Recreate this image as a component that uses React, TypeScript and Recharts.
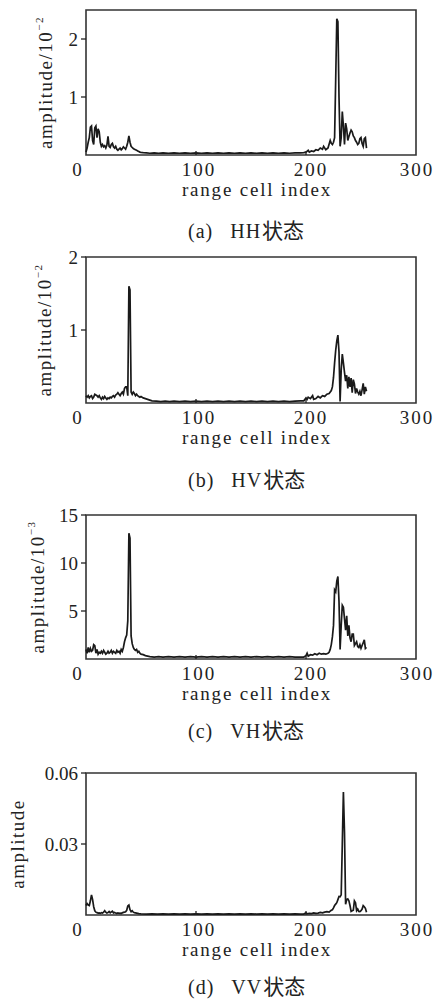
import React from 'react';
import { LineChart, Line, XAxis, YAxis, ReferenceArea } from 'recharts';

// range cell index -> amplitude
const hhSeries: [number, number][] = [
  [0, 0.05], [1, 0.12], [2, 0.22], [3, 0.3], [4, 0.48], [5, 0.5], [6, 0.25], [7, 0.18], [8, 0.47], [9, 0.5],
  [10, 0.3], [11, 0.45], [12, 0.4], [13, 0.22], [14, 0.15], [15, 0.18], [16, 0.14], [17, 0.16], [18, 0.12], [19, 0.17],
  [20, 0.32], [21, 0.15], [22, 0.13], [23, 0.18], [24, 0.2], [25, 0.14], [26, 0.12], [27, 0.15], [28, 0.1], [29, 0.08],
  [30, 0.1], [31, 0.12], [32, 0.09], [33, 0.11], [34, 0.14], [35, 0.12], [36, 0.1], [37, 0.15], [38, 0.22], [39, 0.33],
  [40, 0.22], [41, 0.15], [42, 0.13], [43, 0.11], [44, 0.1], [45, 0.09], [46, 0.08], [47, 0.07], [48, 0.06], [49, 0.05],
  [50, 0.045], [52, 0.04], [55, 0.035], [58, 0.03], [62, 0.035], [66, 0.03], [70, 0.035], [75, 0.03], [80, 0.035],
  [85, 0.03], [90, 0.035], [95, 0.03], [100, 0.035], [105, 0.03], [110, 0.035], [115, 0.03], [120, 0.035], [125, 0.03],
  [130, 0.035], [135, 0.03], [140, 0.035], [145, 0.03], [150, 0.035], [155, 0.03], [160, 0.035], [165, 0.03], [170, 0.035],
  [175, 0.03], [180, 0.035], [185, 0.03], [190, 0.035], [195, 0.035], [198, 0.04], [200, 0.05], [202, 0.08], [203, 0.05],
  [205, 0.07], [207, 0.06], [209, 0.09], [211, 0.08], [213, 0.12], [215, 0.1], [216, 0.15], [218, 0.09], [220, 0.12],
  [222, 0.25], [223, 0.2], [224, 0.18], [225, 0.22], [226, 0.3], [227, 1.3], [228, 2.35], [229, 2.3], [230, 1.0],
  [231, 0.15], [232, 0.3], [233, 0.75], [234, 0.5], [235, 0.18], [236, 0.55], [237, 0.45], [238, 0.25], [239, 0.32],
  [240, 0.38], [241, 0.43], [242, 0.4], [243, 0.33], [244, 0.3], [245, 0.25], [246, 0.22], [247, 0.18], [248, 0.2],
  [249, 0.28], [250, 0.3], [251, 0.2], [252, 0.15], [253, 0.28], [254, 0.3], [255, 0.12],
];

const hvSeries: [number, number][] = [
  [0, 0.1], [1, 0.08], [2, 0.1], [3, 0.07], [4, 0.09], [5, 0.1], [6, 0.06], [7, 0.08], [8, 0.12], [9, 0.11],
  [10, 0.1], [11, 0.08], [12, 0.1], [13, 0.07], [14, 0.05], [15, 0.08], [16, 0.06], [17, 0.09], [18, 0.07], [19, 0.05],
  [20, 0.07], [21, 0.06], [22, 0.08], [23, 0.07], [24, 0.09], [25, 0.1], [26, 0.08], [27, 0.11], [28, 0.12], [29, 0.14],
  [30, 0.12], [31, 0.1], [32, 0.13], [33, 0.15], [34, 0.12], [35, 0.2], [36, 0.22], [37, 0.22], [38, 0.1], [39, 1.6],
  [40, 1.55], [41, 0.15], [42, 0.12], [43, 0.15], [44, 0.13], [45, 0.1], [46, 0.12], [47, 0.1], [48, 0.09], [49, 0.08],
  [50, 0.09], [52, 0.07], [54, 0.06], [56, 0.05], [58, 0.04], [60, 0.03], [64, 0.025], [68, 0.02], [72, 0.025],
  [76, 0.02], [80, 0.025], [85, 0.02], [90, 0.025], [95, 0.02], [100, 0.025], [105, 0.02], [110, 0.025], [115, 0.02],
  [120, 0.025], [125, 0.02], [130, 0.025], [135, 0.02], [140, 0.025], [145, 0.02], [150, 0.025], [155, 0.02], [160, 0.025],
  [165, 0.02], [170, 0.025], [175, 0.02], [180, 0.025], [185, 0.02], [190, 0.025], [195, 0.03], [198, 0.03], [200, 0.07],
  [201, 0.05], [202, 0.08], [204, 0.06], [206, 0.1], [207, 0.05], [209, 0.06], [211, 0.09], [213, 0.07], [215, 0.1],
  [217, 0.09], [219, 0.12], [221, 0.13], [223, 0.17], [224, 0.22], [225, 0.35], [226, 0.55], [227, 0.72], [228, 0.85],
  [229, 0.93], [230, 0.7], [231, 0.02], [232, 0.45], [233, 0.67], [234, 0.55], [235, 0.42], [236, 0.3], [237, 0.38],
  [238, 0.2], [239, 0.36], [240, 0.22], [241, 0.34], [242, 0.14], [243, 0.32], [244, 0.26], [245, 0.13], [246, 0.2],
  [247, 0.15], [248, 0.12], [249, 0.16], [250, 0.1], [251, 0.18], [252, 0.27], [253, 0.12], [254, 0.22], [255, 0.16],
];

const vhSeries: [number, number][] = [
  [0, 1.0], [1, 0.6], [2, 1.2], [3, 0.7], [4, 1.1], [5, 0.8], [6, 0.9], [7, 1.5], [8, 1.4], [9, 0.6],
  [10, 1.0], [11, 0.5], [12, 0.7], [13, 0.6], [14, 0.8], [15, 0.6], [16, 0.9], [17, 0.7], [18, 0.5], [19, 0.6],
  [20, 0.8], [21, 0.6], [22, 0.7], [23, 0.9], [24, 0.6], [25, 0.8], [26, 0.7], [27, 0.6], [28, 0.9], [29, 0.7],
  [30, 0.8], [31, 0.6], [32, 1.0], [33, 0.8], [34, 1.2], [35, 1.8], [36, 2.2], [37, 2.5], [38, 4.0], [39, 13.1],
  [40, 12.6], [41, 2.4], [42, 1.6], [43, 1.2], [44, 1.0], [45, 0.9], [46, 1.0], [47, 0.7], [48, 0.8], [49, 0.6],
  [50, 0.5], [52, 0.45], [54, 0.35], [56, 0.3], [58, 0.25], [62, 0.2], [66, 0.25], [70, 0.2], [75, 0.25], [80, 0.2],
  [85, 0.25], [90, 0.2], [95, 0.25], [100, 0.2], [105, 0.25], [110, 0.2], [115, 0.25], [120, 0.2], [125, 0.25],
  [130, 0.2], [135, 0.25], [140, 0.2], [145, 0.25], [150, 0.2], [155, 0.25], [160, 0.2], [165, 0.25], [170, 0.2],
  [175, 0.25], [180, 0.2], [185, 0.25], [190, 0.2], [195, 0.2], [198, 0.2], [200, 0.35], [201, 0.6], [202, 0.3],
  [204, 0.45], [206, 0.4], [208, 0.55], [210, 0.45], [212, 0.6], [214, 0.5], [216, 0.55], [218, 0.5], [220, 0.6],
  [221, 0.7], [222, 1.0], [223, 1.5], [224, 2.3], [225, 3.5], [226, 7.2], [227, 7.0], [228, 8.1], [229, 8.6],
  [230, 6.0], [231, 1.0], [232, 3.5], [233, 5.6], [234, 5.4], [235, 4.2], [236, 3.0], [237, 4.5], [238, 2.4],
  [239, 3.5], [240, 2.2], [241, 1.8], [242, 2.6], [243, 2.6], [244, 1.4], [245, 1.6], [246, 1.8], [247, 1.3],
  [248, 1.2], [249, 1.5], [250, 1.1], [251, 1.4], [252, 1.7], [253, 2.0], [254, 1.1], [255, 1.2],
];

const vvSeries: [number, number][] = [
  [0, 0.004], [1, 0.0048], [2, 0.0042], [3, 0.004], [4, 0.006], [5, 0.0085], [6, 0.0065], [7, 0.0035], [8, 0.0018],
  [9, 0.0012], [10, 0.001], [11, 0.0008], [12, 0.0009], [13, 0.0007], [14, 0.001], [15, 0.0008], [16, 0.0012],
  [17, 0.0018], [18, 0.0012], [19, 0.0008], [20, 0.001], [21, 0.0015], [22, 0.0009], [23, 0.0013], [24, 0.0016],
  [25, 0.0009], [26, 0.0011], [27, 0.0008], [28, 0.0006], [29, 0.0009], [30, 0.0007], [31, 0.0008], [32, 0.0006],
  [33, 0.0009], [34, 0.0011], [35, 0.0012], [36, 0.0014], [37, 0.002], [38, 0.0038], [39, 0.0042], [40, 0.0022],
  [41, 0.0014], [42, 0.0018], [43, 0.0012], [44, 0.001], [45, 0.0009], [46, 0.0008], [47, 0.0007], [48, 0.0006],
  [50, 0.0005], [55, 0.0004], [60, 0.0005], [65, 0.0004], [70, 0.0005], [75, 0.0004], [80, 0.0005], [85, 0.0004],
  [90, 0.0005], [95, 0.0004], [100, 0.0005], [105, 0.0004], [110, 0.0005], [115, 0.0004], [120, 0.0005], [125, 0.0004],
  [130, 0.0005], [135, 0.0004], [140, 0.0005], [145, 0.0004], [150, 0.0005], [155, 0.0004], [160, 0.0005],
  [165, 0.0004], [170, 0.0005], [175, 0.0004], [180, 0.0005], [185, 0.0004], [190, 0.0005], [195, 0.0004],
  [198, 0.0004], [200, 0.0009], [201, 0.0005], [203, 0.0007], [205, 0.0006], [207, 0.0009], [209, 0.0007],
  [211, 0.0008], [213, 0.0011], [215, 0.0009], [217, 0.0012], [219, 0.0014], [221, 0.0012], [222, 0.0016],
  [223, 0.002], [224, 0.0022], [225, 0.003], [226, 0.004], [227, 0.0046], [228, 0.0052], [229, 0.0065],
  [230, 0.0078], [231, 0.0077], [232, 0.0085], [233, 0.03], [234, 0.052], [235, 0.035], [236, 0.0045],
  [237, 0.0065], [238, 0.0068], [239, 0.006], [240, 0.004], [241, 0.0015], [242, 0.0018], [243, 0.002],
  [244, 0.006], [245, 0.0052], [246, 0.0018], [247, 0.0025], [248, 0.0015], [249, 0.0014], [250, 0.0018],
  [251, 0.0025], [252, 0.004], [253, 0.0035], [254, 0.0028], [255, 0.0012],
];

const xTicks = [0, 100, 200, 300];
const hhTicks = [1, 2];
const hvTicks = [1, 2];
const vhTicks = [5, 10, 15];
const vvTicks = [0.03, 0.06];

const FONT = '"Liberation Serif", "Times New Roman", "Noto Sans CJK SC", serif';
const INK = '#222';

// small per-label nudges, the source figure places them by hand
const xLabelShift: Record<number, number> = { 0: -8, 100: 3, 200: 5, 300: 1 };

const XTick = (props: any) => {
  const { x, y, payload } = props;
  const v = payload.value as number;
  return (
    <g>
      {v > 0 && v < 300 && <line x1={x} x2={x} y1={y} y2={y - 4} stroke={INK} strokeWidth={1.3} />}
      <text x={x + (xLabelShift[v] ?? 0)} y={y + 21} textAnchor="middle" fill={INK}
        style={{ fontFamily: FONT, fontSize: 19, letterSpacing: 2 }}>
        {v}
      </text>
    </g>
  );
};

interface PanelProps {
  series: [number, number][];
  yMax: number;
  yTicks: number[];
  exp: string | null;
  labelX: number;
  plotTop: number;
  plotH: number;
  tag: string;
  mode: string;
  captionTop: number;
  fmt?: (v: number) => string;
}

const Panel = ({ series, yMax, yTicks, exp, labelX, plotTop, plotH, tag, mode, captionTop, fmt }: PanelProps) => {
  const data = series.map(([cell, amp]) => ({ cell, amp }));
  return (
    <>
      <div style={{ position: 'absolute', top: plotTop - 10, left: 0 }}>
        <LineChart width={436} height={plotH + 70} data={data} margin={{ top: 10, right: 20, bottom: 10, left: 0 }}>
          <XAxis
            type="number"
            dataKey="cell"
            domain={[0, 300]}
            ticks={xTicks}
            interval={0}
            height={50}
            axisLine={false}
            tickLine={false}
            tickSize={0}
            tickMargin={0}
            tick={<XTick />}
            label={{
              content: (p: any) => (
                <text x={p.viewBox.x + p.viewBox.width / 2 + 6} y={p.viewBox.y + 41} textAnchor="middle" fill={INK}
                  style={{ fontFamily: FONT, fontSize: 19, letterSpacing: 1.8 }}>
                  range cell index
                </text>
              ),
            }}
          />
          <YAxis
            type="number"
            domain={[0, yMax]}
            ticks={yTicks}
            interval={0}
            width={86}
            axisLine={false}
            tickSize={5}
            tickMargin={3}
            tickLine={{ stroke: INK, strokeWidth: 1.3 }}
            tickFormatter={fmt}
            tick={{ fill: INK, fontSize: 19, fontFamily: FONT }}
            label={{
              content: (p: any) => {
                const cy = p.viewBox.y + p.viewBox.height / 2;
                return (
                  <text x={labelX} y={cy} transform={`rotate(-90 ${labelX} ${cy})`} textAnchor="middle" fill={INK}
                    style={{ fontFamily: FONT, fontSize: 19, letterSpacing: 1.5 }}>
                    {exp ? 'amplitude/10' : 'amplitude'}
                    {exp && <tspan fontSize={11} dy={-9}>{exp}</tspan>}
                  </text>
                );
              },
            }}
          />
          <ReferenceArea x1={0} x2={300} y1={0} y2={yMax} fill="none" stroke="#333" strokeWidth={1.6} ifOverflow="visible" />
          <Line type="linear" dataKey="amp" stroke="#1a1a1a" strokeWidth={1.7} dot={false} isAnimationActive={false} />
        </LineChart>
      </div>
      <div style={{ position: 'absolute', top: captionTop, left: 188, whiteSpace: 'nowrap', fontFamily: FONT, fontSize: 20, lineHeight: '20px', color: INK }}>
        <span style={{ letterSpacing: 1 }}>{tag}</span>
        <span style={{ marginLeft: 17, letterSpacing: 1 }}>{mode}</span>
        <span style={{ fontSize: 21, marginLeft: 1 }}>状态</span>
      </div>
    </>
  );
};

export default function App() {
  return (
    <div style={{ position: 'absolute', top: 0, left: 0, width: 436, height: 1002, background: '#fff' }}>
      <Panel series={hhSeries} yMax={2.5} yTicks={hhTicks} exp="−2" labelX={52} plotTop={10} plotH={145}
        tag="(a)" mode="HH" captionTop={221} />
      <Panel series={hvSeries} yMax={2} yTicks={hvTicks} exp="−2" labelX={51} plotTop={257} plotH={146}
        tag="(b)" mode="HV" captionTop={470} />
      <Panel series={vhSeries} yMax={15} yTicks={vhTicks} exp="−3" labelX={44} plotTop={515} plotH={144}
        tag="(c)" mode="VH" captionTop={721} />
      <Panel series={vvSeries} yMax={0.06} yTicks={vvTicks} exp={null} labelX={24} plotTop={773} plotH={142}
        tag="(d)" mode="VV" captionTop={977} fmt={(v: number) => v.toFixed(2)} />
    </div>
  );
}
